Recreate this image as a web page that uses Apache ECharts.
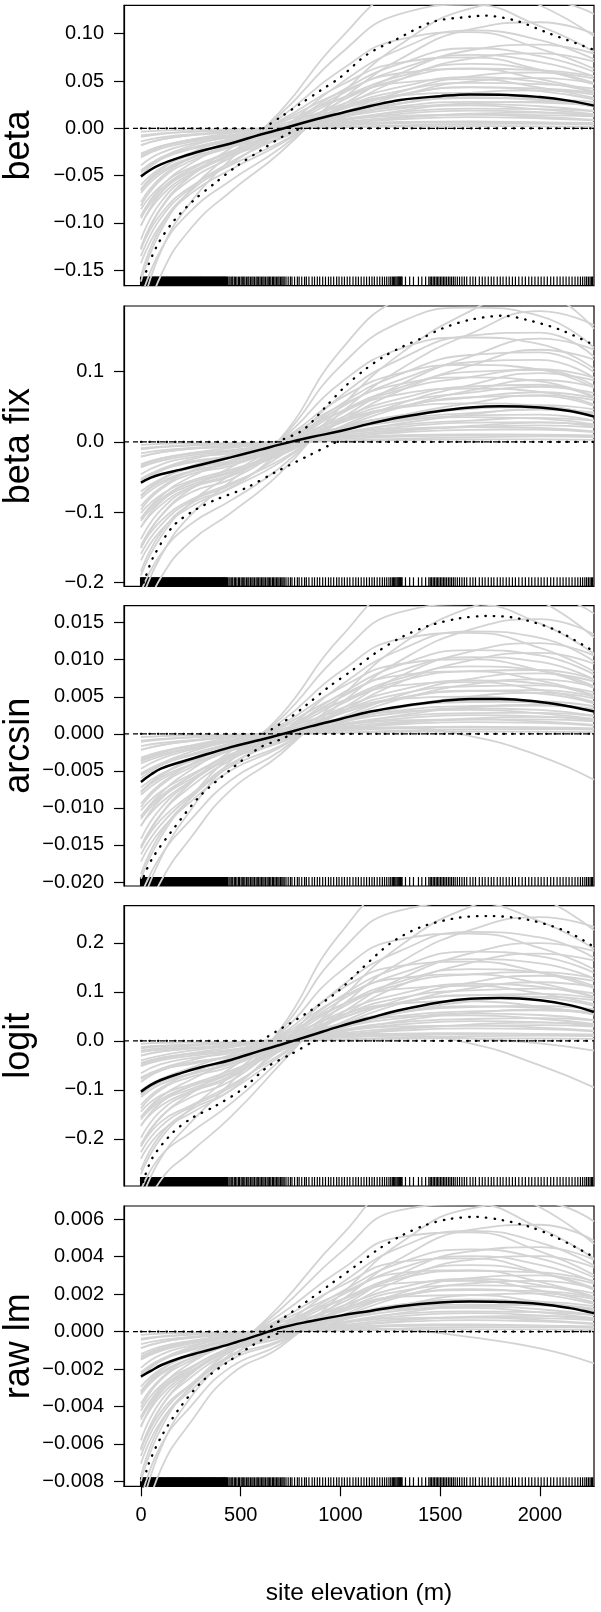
<!DOCTYPE html>
<html><head><meta charset="utf-8">
<script src="https://cdn.jsdelivr.net/npm/echarts@6/dist/echarts.min.js"></script>
<style>html,body{margin:0;padding:0;background:#fff}#c{width:601px;height:1612px}</style>
</head><body><div id="c"></div>
<script>
// shared elevation positions of the grey curves
const X = [0, 100, 250, 450, 700, 1000, 1300, 1650, 2000, 2271];
// positions of mean-curve readings
const MX = [0, 50, 100, 200, 300, 450, 600, 700, 850, 1000, 1150, 1300, 1500, 1650, 1800, 2000, 2150, 2271];
const xTicks = [0, 500, 1000, 1500, 2000];

// ---------- beta ----------
const betaTicks = [-0.15, -0.10, -0.05, 0, 0.05, 0.10];
const betaMean = [-0.051,-0.0435,-0.038,-0.0305,-0.024,-0.016,-0.0065,-0.001,0.008,0.016,0.0235,0.030,0.034,0.0358,0.0356,0.033,0.029,0.024];
const betaUpper = [[0,0],[613,0],[700,0.012],[800,0.026],[900,0.040],[1000,0.054],[1130,0.0775],[1280,0.094],[1465,0.1127],[1650,0.118],[1730,0.119],[1880,0.1137],[2050,0.100],[2271,0.083]];
const betaLower = [[0,-0.178],[28,-0.150],[87,-0.1216],[165,-0.0977],[262,-0.0765],[373,-0.0575],[483,-0.0395],[603,-0.0229],[723,-0.0071],[803,0],[2271,0]];
const betaGrey = [
[-0.0036,-0.0024,-0.0015,-0.0009,0,0.0011,0.0019,0.0024,0.0021,0.0017],
[-0.0076,-0.0054,-0.0037,-0.0023,-0.0009,0.0012,0.0031,0.0044,0.0047,0.0042],
[-0.009,-0.006,-0.0036,-0.0015,0.0008,0.0044,0.0067,0.0073,0.006,0.0045],
[-0.0137,-0.0096,-0.0064,-0.0036,-0.0009,0.0029,0.0053,0.0064,0.0062,0.0056],
[-0.0178,-0.0118,-0.0075,-0.0043,-0.0002,0.0054,0.0095,0.0118,0.0106,0.0083],
[-0.018,-0.012,-0.0072,-0.003,0.0017,0.0088,0.0134,0.0145,0.012,0.009],
[-0.0266,-0.0189,-0.0129,-0.0081,-0.0031,0.0043,0.0108,0.0154,0.0165,0.0147],
[-0.0285,-0.0189,-0.012,-0.0069,-0.0003,0.0086,0.0152,0.0188,0.017,0.0133],
[-0.0308,-0.0216,-0.0144,-0.0081,-0.002,0.0065,0.0119,0.0144,0.014,0.0126],
[-0.03,-0.02,-0.012,-0.005,0.0028,0.0146,0.0224,0.0242,0.02,0.015],
[-0.0392,-0.026,-0.0165,-0.0095,-0.0004,0.0119,0.0209,0.0259,0.0233,0.0183],
[-0.0456,-0.0324,-0.0221,-0.0139,-0.0053,0.0074,0.0185,0.0264,0.0283,0.0252],
[-0.0445,-0.0312,-0.0208,-0.0117,-0.0029,0.0094,0.0172,0.0208,0.0203,0.0182],
[-0.0498,-0.033,-0.021,-0.012,-0.0006,0.0151,0.0266,0.0329,0.0297,0.0232],
[-0.0465,-0.031,-0.0186,-0.0078,0.0043,0.0226,0.0347,0.0375,0.031,0.0233],
[-0.0646,-0.0459,-0.0313,-0.0197,-0.0075,0.0105,0.0262,0.0374,0.0401,0.0357],
[-0.0659,-0.0437,-0.0278,-0.0159,-0.0007,0.02,0.0352,0.0435,0.0392,0.0307],
[-0.0684,-0.048,-0.032,-0.018,-0.0044,0.0144,0.0264,0.032,0.0312,0.028],
[-0.0645,-0.043,-0.0258,-0.0108,0.006,0.0314,0.0482,0.052,0.043,0.0323],
[-0.0819,-0.0543,-0.0345,-0.0198,-0.0009,0.0248,0.0437,0.054,0.0488,0.0382],
[-0.095,-0.0675,-0.046,-0.029,-0.011,0.0155,0.0385,0.055,0.059,0.0525],
[-0.0923,-0.0648,-0.0432,-0.0243,-0.0059,0.0194,0.0356,0.0432,0.0421,0.0378],
[-0.1032,-0.0684,-0.0435,-0.0249,-0.0012,0.0313,0.0551,0.0682,0.0615,0.0481],
[-0.093,-0.062,-0.0372,-0.0155,0.0087,0.0453,0.0694,0.075,0.062,0.0465],
[-0.1273,-0.0905,-0.0616,-0.0389,-0.0147,0.0208,0.0516,0.0737,0.0791,0.0704],
[-0.1282,-0.085,-0.054,-0.031,-0.0014,0.0389,0.0684,0.0846,0.0763,0.0598],
[-0.1351,-0.0948,-0.0632,-0.0356,-0.0087,0.0284,0.0521,0.0632,0.0616,0.0553],
[-0.1566,-0.1038,-0.066,-0.0378,-0.0018,0.0475,0.0836,0.1034,0.0933,0.073],
[-0.162,-0.108,-0.0648,-0.027,0.0151,0.0788,0.121,0.1307,0.108,0.081],
[-0.2185,-0.1553,-0.1058,-0.0667,-0.0253,0.0357,0.0886,0.1265,0.1357,0.1208],
[-0.195,-0.13,-0.078,-0.0325,0.0182,0.0949,0.1456,0.1573,0.13,0.0975],
[-0.0599,-0.042,-0.028,-0.0158,-0.0039,0.0126,0.0231,0.028,0.0273,0.0245],
[-0.0855,-0.0608,-0.0414,-0.0261,-0.0099,0.014,0.0347,0.0495,0.0531,0.0473],
[-0.078,-0.052,-0.0312,-0.013,0.0073,0.038,0.0582,0.0629,0.052,0.039],
[-0.1026,-0.072,-0.048,-0.027,-0.0066,0.0216,0.0396,0.048,0.0468,0.042],
[-0.1175,-0.0779,-0.0495,-0.0284,-0.0013,0.0356,0.0627,0.0776,0.07,0.0548],
[-0.1425,-0.1013,-0.069,-0.0435,-0.0165,0.0233,0.0578,0.0825,0.0885,0.0788],
[-0.126,-0.084,-0.0504,-0.021,0.0118,0.0613,0.0941,0.1016,0.084,0.063],
[-0.1805,-0.1283,-0.0874,-0.0551,-0.0209,0.0295,0.0732,0.1045,0.1121,0.0998]
];

// ---------- beta fix ----------
const betaFixTicks = [-0.2, -0.1, 0, 0.1];
const betaFixMean = [-0.058,-0.051,-0.046,-0.0395,-0.0325,-0.022,-0.011,-0.0035,0.0065,0.0155,0.026,0.035,0.044,0.049,0.0508,0.049,0.044,0.036];
const betaFixUpper = [[0,0],[676,0],[811,0.0167],[926,0.050],[1022,0.0786],[1118,0.102],[1214,0.121],[1310,0.1356],[1406,0.1475],[1514,0.162],[1650,0.174],[1815,0.1798],[1933,0.174],[2100,0.160],[2271,0.138]];
const betaFixLower = [[0,-0.212],[20,-0.195],[62,-0.164],[158,-0.121],[254,-0.0997],[369,-0.083],[523,-0.066],[677,-0.0427],[830,-0.021],[965,-0.002],[985,0],[2271,0]];
const betaFixGrey = [
[-0.0042,-0.0029,-0.002,-0.0015,-0.0003,0.0015,0.0027,0.0034,0.0035,0.0028],
[-0.009,-0.0067,-0.0049,-0.0035,-0.0015,0.0017,0.0044,0.0065,0.0078,0.007],
[-0.0106,-0.0075,-0.0048,-0.0026,0.0002,0.006,0.0095,0.0106,0.01,0.0074],
[-0.0162,-0.012,-0.0086,-0.0062,-0.002,0.004,0.0075,0.0094,0.0105,0.0093],
[-0.021,-0.0147,-0.01,-0.0074,-0.0015,0.0074,0.0134,0.0172,0.0177,0.0138],
[-0.0211,-0.015,-0.0096,-0.0052,0.0005,0.012,0.019,0.0212,0.0199,0.0149],
[-0.0315,-0.0235,-0.0172,-0.0123,-0.0053,0.006,0.0153,0.0227,0.0274,0.0245],
[-0.0336,-0.0235,-0.016,-0.0118,-0.0024,0.0118,0.0214,0.0275,0.0283,0.0221],
[-0.0364,-0.027,-0.0193,-0.014,-0.0045,0.009,0.0169,0.0211,0.0236,0.0209],
[-0.0352,-0.025,-0.016,-0.0086,0.0008,0.02,0.0316,0.0354,0.0332,0.0248],
[-0.0462,-0.0323,-0.022,-0.0163,-0.0033,0.0163,0.0295,0.0378,0.0389,0.0304],
[-0.054,-0.0403,-0.0295,-0.0211,-0.0091,0.0103,0.0262,0.0389,0.047,0.042],
[-0.0525,-0.039,-0.0278,-0.0203,-0.0065,0.013,0.0244,0.0304,0.0341,0.0302],
[-0.0588,-0.0412,-0.028,-0.0207,-0.0042,0.0207,0.0375,0.0482,0.0496,0.0386],
[-0.0546,-0.0388,-0.0248,-0.0133,0.0012,0.031,0.049,0.0549,0.0515,0.0384],
[-0.0765,-0.0571,-0.0418,-0.0299,-0.0129,0.0146,0.0371,0.0551,0.0666,0.0595],
[-0.0777,-0.0544,-0.037,-0.0274,-0.0056,0.0274,0.0496,0.0636,0.0655,0.0511],
[-0.0808,-0.06,-0.0428,-0.0312,-0.01,0.02,0.0376,0.0468,0.0524,0.0464],
[-0.0757,-0.0538,-0.0344,-0.0185,0.0017,0.043,0.0679,0.0761,0.0714,0.0533],
[-0.0966,-0.0676,-0.046,-0.034,-0.0069,0.034,0.0616,0.0791,0.0814,0.0635],
[-0.1125,-0.084,-0.0615,-0.044,-0.019,0.0215,0.0545,0.081,0.098,0.0875],
[-0.1091,-0.081,-0.0578,-0.0421,-0.0135,0.027,0.0508,0.0632,0.0707,0.0626],
[-0.1218,-0.0853,-0.058,-0.0429,-0.0087,0.0429,0.0777,0.0998,0.1027,0.08],
[-0.1091,-0.0775,-0.0496,-0.0267,0.0025,0.062,0.098,0.1097,0.1029,0.0769],
[-0.1508,-0.1126,-0.0824,-0.059,-0.0255,0.0288,0.073,0.1085,0.1313,0.1173],
[-0.1512,-0.1058,-0.072,-0.0533,-0.0108,0.0533,0.0965,0.1238,0.1274,0.0994],
[-0.1596,-0.1185,-0.0845,-0.0616,-0.0198,0.0395,0.0743,0.0924,0.1035,0.0916],
[-0.1848,-0.1294,-0.088,-0.0651,-0.0132,0.0651,0.1179,0.1514,0.1558,0.1214],
[-0.1901,-0.135,-0.0864,-0.0464,0.0043,0.108,0.1706,0.1912,0.1793,0.1339],
[-0.2588,-0.1932,-0.1415,-0.1012,-0.0437,0.0495,0.1254,0.1863,0.2254,0.2013],
[-0.2288,-0.1625,-0.104,-0.0559,0.0052,0.13,0.2054,0.2301,0.2158,0.1612],
[-0.0707,-0.0525,-0.0375,-0.0273,-0.0088,0.0175,0.0329,0.041,0.0459,0.0406],
[-0.1013,-0.0756,-0.0554,-0.0396,-0.0171,0.0194,0.0491,0.0729,0.0882,0.0788],
[-0.0915,-0.065,-0.0416,-0.0224,0.0021,0.052,0.0822,0.092,0.0863,0.0645],
[-0.1212,-0.09,-0.0642,-0.0468,-0.015,0.03,0.0564,0.0702,0.0786,0.0696],
[-0.1386,-0.097,-0.066,-0.0488,-0.0099,0.0488,0.0884,0.1135,0.1168,0.0911],
[-0.1688,-0.126,-0.0923,-0.066,-0.0285,0.0323,0.0818,0.1215,0.147,0.1313],
[-0.1478,-0.105,-0.0672,-0.0361,0.0034,0.084,0.1327,0.1487,0.1394,0.1042],
[-0.2138,-0.1596,-0.1169,-0.0836,-0.0361,0.0409,0.1036,0.1539,0.1862,0.1663]
];

// ---------- arcsin ----------
const arcsinTicks = [-0.020, -0.015, -0.010, -0.005, 0, 0.005, 0.010, 0.015];
const arcsinMean = [-0.0065,-0.0055,-0.0047,-0.0038,-0.0030,-0.0018,-0.0008,-0.0001,0.0010,0.0020,0.0030,0.0037,0.0044,0.0047,0.0047,0.0043,0.0037,0.0030];
const arcsinUpper = [[0,0],[619,0],[753,0.0023],[830,0.0039],[945,0.0064],[1061,0.0086],[1176,0.0109],[1310,0.0131],[1445,0.0146],[1599,0.0156],[1733,0.0159],[1887,0.0156],[2079,0.014],[2271,0.0111]];
const arcsinLower = [[0,-0.0215],[14,-0.0193],[62,-0.0166],[158,-0.013],[292,-0.0085],[446,-0.0049],[600,-0.0018],[715,-0.0006],[753,0],[2271,0]];
const arcsinGrey = [
[-0.00043,-0.0003,-0.0002,-0.0001,0,0.00015,0.00026,0.00031,0.00029,0.00022],
[-0.00092,-0.00069,-0.00049,-0.00026,-0.0001,0.00017,0.00042,0.00059,0.00065,0.00056],
[-0.00109,-0.00077,-0.00047,-0.00017,0.00011,0.0006,0.00091,0.00097,0.00083,0.0006],
[-0.00165,-0.00124,-0.00085,-0.00041,-0.00009,0.0004,0.00072,0.00086,0.00087,0.00074],
[-0.00215,-0.00152,-0.00099,-0.00049,0,0.00074,0.00129,0.00157,0.00147,0.00111],
[-0.00217,-0.00155,-0.00095,-0.00034,0.00023,0.0012,0.00182,0.00194,0.00166,0.0012],
[-0.00322,-0.00242,-0.00171,-0.00092,-0.00034,0.0006,0.00146,0.00207,0.00228,0.00197],
[-0.00344,-0.00243,-0.00158,-0.00078,0,0.00118,0.00206,0.00251,0.00235,0.00178],
[-0.00371,-0.00279,-0.00191,-0.00092,-0.0002,0.0009,0.00162,0.00193,0.00196,0.00167],
[-0.00362,-0.00258,-0.00158,-0.00056,0.00038,0.002,0.00304,0.00324,0.00276,0.002],
[-0.00473,-0.00334,-0.00218,-0.00108,0,0.00163,0.00284,0.00345,0.00323,0.00244],
[-0.00552,-0.00415,-0.00293,-0.00158,-0.00058,0.00103,0.0025,0.00355,0.00391,0.00338],
[-0.00536,-0.00403,-0.00276,-0.00133,-0.00029,0.0013,0.00234,0.00278,0.00283,0.00242],
[-0.00602,-0.00426,-0.00277,-0.00137,0,0.00207,0.00361,0.0044,0.00412,0.00311],
[-0.00561,-0.004,-0.00245,-0.00087,0.00059,0.0031,0.00471,0.00502,0.00428,0.0031],
[-0.00782,-0.00588,-0.00415,-0.00224,-0.00082,0.00146,0.00354,0.00503,0.00554,0.00479],
[-0.00796,-0.00562,-0.00366,-0.00181,0,0.00274,0.00477,0.00581,0.00544,0.00411],
[-0.00824,-0.0062,-0.00424,-0.00204,-0.00044,0.002,0.0036,0.00428,0.00436,0.00372],
[-0.00778,-0.00555,-0.0034,-0.0012,0.00082,0.0043,0.00654,0.00697,0.00593,0.0043],
[-0.00989,-0.00699,-0.00455,-0.00225,0,0.0034,0.00593,0.00722,0.00676,0.00511],
[-0.0115,-0.00865,-0.0061,-0.0033,-0.0012,0.00215,0.0052,0.0074,0.00815,0.00705],
[-0.01112,-0.00837,-0.00572,-0.00275,-0.00059,0.0027,0.00486,0.00578,0.00589,0.00502],
[-0.01247,-0.00882,-0.00574,-0.00284,0,0.00429,0.00748,0.00911,0.00853,0.00644],
[-0.01122,-0.008,-0.0049,-0.00174,0.00118,0.0062,0.00942,0.01004,0.00856,0.0062],
[-0.01541,-0.01159,-0.00817,-0.00442,-0.00161,0.00288,0.00697,0.00992,0.01092,0.00945],
[-0.01548,-0.01094,-0.00713,-0.00353,0,0.00533,0.00929,0.0113,0.01058,0.00799],
[-0.01627,-0.01225,-0.00837,-0.00403,-0.00087,0.00395,0.00711,0.00845,0.00861,0.00735],
[-0.01892,-0.01338,-0.00871,-0.00431,0,0.00651,0.01135,0.01382,0.01294,0.00977],
[-0.01955,-0.01393,-0.00853,-0.00302,0.00205,0.0108,0.01642,0.0175,0.0149,0.0108],
[-0.02645,-0.0199,-0.01403,-0.00759,-0.00276,0.00495,0.01196,0.01702,0.01875,0.01622],
[-0.02353,-0.01677,-0.01027,-0.00364,0.00247,0.013,0.01976,0.02106,0.01794,0.013],
[-0.004,-0.003,-0.002,-0.001,0.0002,0.0009,0.0008,-0.0003,-0.003,-0.0062],
[-0.00721,-0.00543,-0.00371,-0.00179,-0.00039,0.00175,0.00315,0.00375,0.00382,0.00326],
[-0.01035,-0.00779,-0.00549,-0.00297,-0.00108,0.00194,0.00468,0.00666,0.00734,0.00635],
[-0.00941,-0.00671,-0.00411,-0.00146,0.00099,0.0052,0.0079,0.00842,0.00718,0.0052],
[-0.01236,-0.0093,-0.00636,-0.00306,-0.00066,0.003,0.0054,0.00642,0.00654,0.00558],
[-0.01419,-0.01003,-0.00653,-0.00323,0,0.00488,0.00851,0.01036,0.0097,0.00733],
[-0.01725,-0.01298,-0.00915,-0.00495,-0.0018,0.00323,0.0078,0.0111,0.01223,0.01058],
[-0.0152,-0.01084,-0.00664,-0.00235,0.0016,0.0084,0.01277,0.01361,0.01159,0.0084],
[-0.02185,-0.01644,-0.01159,-0.00627,-0.00228,0.00409,0.00988,0.01406,0.01549,0.0134]
];

// ---------- logit ----------
const logitTicks = [-0.2, -0.1, 0, 0.1, 0.2];
const logitMean = [-0.104,-0.090,-0.080,-0.066,-0.054,-0.039,-0.020,-0.008,0.011,0.030,0.047,0.063,0.079,0.086,0.0875,0.083,0.073,0.059];
const logitUpper = [[0,0],[600,0],[677,0.019],[830,0.0565],[984,0.10],[1100,0.145],[1253,0.20],[1406,0.233],[1599,0.252],[1752,0.255],[1945,0.247],[2137,0.223],[2271,0.192]];
const logitLower = [[0,-0.305],[19,-0.277],[62,-0.236],[158,-0.188],[254,-0.158],[369,-0.134],[504,-0.10],[638,-0.052],[753,-0.027],[869,0],[2271,0]];
const logitGrey = [
[-0.006,-0.0043,-0.0032,-0.0023,-0.0002,0.0025,0.0042,0.0051,0.0048,0.0039],
[-0.0128,-0.0099,-0.0079,-0.0054,-0.0016,0.0029,0.0068,0.0095,0.0106,0.0098],
[-0.0151,-0.011,-0.0077,-0.004,0.0011,0.0101,0.0148,0.0157,0.0136,0.0104],
[-0.023,-0.0177,-0.0137,-0.0096,-0.0018,0.0067,0.0117,0.0138,0.0142,0.013],
[-0.03,-0.0217,-0.016,-0.0114,-0.0008,0.0125,0.0209,0.0253,0.024,0.0193],
[-0.0302,-0.0221,-0.0154,-0.0079,0.0023,0.0203,0.0296,0.0313,0.0271,0.0209],
[-0.0449,-0.0346,-0.0276,-0.0189,-0.0057,0.0102,0.0237,0.0333,0.0372,0.0343],
[-0.048,-0.0347,-0.0256,-0.0182,-0.0013,0.02,0.0334,0.0405,0.0384,0.0309],
[-0.0518,-0.0398,-0.0308,-0.0216,-0.0041,0.0151,0.0263,0.031,0.032,0.0292],
[-0.0504,-0.0368,-0.0256,-0.0132,0.0038,0.0338,0.0494,0.0522,0.0452,0.0348],
[-0.066,-0.0477,-0.0352,-0.0251,-0.0018,0.0275,0.046,0.0557,0.0528,0.0425],
[-0.077,-0.0593,-0.0473,-0.0324,-0.0098,0.0175,0.0406,0.0571,0.0638,0.0588],
[-0.0749,-0.0575,-0.0445,-0.0312,-0.006,0.0218,0.038,0.0447,0.0463,0.0421],
[-0.084,-0.0608,-0.0448,-0.0319,-0.0022,0.035,0.0585,0.0708,0.0672,0.054],
[-0.0781,-0.057,-0.0397,-0.0205,0.0059,0.0524,0.0766,0.0809,0.0701,0.0539],
[-0.1091,-0.084,-0.067,-0.0459,-0.0139,0.0248,0.0575,0.0809,0.0904,0.0833],
[-0.111,-0.0803,-0.0592,-0.0422,-0.003,0.0463,0.0773,0.0936,0.0888,0.0714],
[-0.1152,-0.0884,-0.0684,-0.048,-0.0092,0.0336,0.0584,0.0688,0.0712,0.0648],
[-0.1084,-0.0791,-0.055,-0.0284,0.0082,0.0727,0.1062,0.1122,0.0972,0.0748],
[-0.138,-0.0998,-0.0736,-0.0524,-0.0037,0.0575,0.0961,0.1164,0.1104,0.0888],
[-0.1605,-0.1235,-0.0985,-0.0675,-0.0205,0.0365,0.0845,0.119,0.133,0.1225],
[-0.1555,-0.1193,-0.0923,-0.0648,-0.0124,0.0454,0.0788,0.0929,0.0961,0.0875],
[-0.174,-0.1259,-0.0928,-0.0661,-0.0046,0.0725,0.1212,0.1467,0.1392,0.1119],
[-0.1562,-0.1141,-0.0794,-0.0409,0.0118,0.1048,0.1531,0.1618,0.1401,0.1079],
[-0.2151,-0.1655,-0.132,-0.0905,-0.0275,0.0489,0.1132,0.1595,0.1782,0.1642],
[-0.216,-0.1562,-0.1152,-0.0821,-0.0058,0.09,0.1505,0.1822,0.1728,0.139],
[-0.2275,-0.1746,-0.1351,-0.0948,-0.0182,0.0664,0.1153,0.1359,0.1406,0.128],
[-0.264,-0.191,-0.1408,-0.1003,-0.007,0.11,0.1839,0.2226,0.2112,0.1698],
[-0.2722,-0.1987,-0.1382,-0.0713,0.0205,0.1825,0.2668,0.2819,0.2441,0.1879],
[-0.3692,-0.2841,-0.2266,-0.1553,-0.0472,0.084,0.1944,0.2737,0.3059,0.2818],
[-0.3276,-0.2392,-0.1664,-0.0858,0.0247,0.2197,0.3211,0.3393,0.2938,0.2262],
[-0.04,-0.03,-0.02,-0.01,0.005,0.015,0.012,-0.005,-0.05,-0.095],
[-0.02,-0.015,-0.01,-0.005,0.002,0.008,0.01,0.005,-0.005,-0.02],
[-0.1008,-0.0774,-0.0599,-0.042,-0.0081,0.0294,0.0511,0.0602,0.0623,0.0567],
[-0.1445,-0.1112,-0.0887,-0.0608,-0.0185,0.0329,0.0761,0.1071,0.1197,0.1103],
[-0.131,-0.0957,-0.0666,-0.0343,0.0099,0.0879,0.1284,0.1357,0.1175,0.0905],
[-0.1728,-0.1326,-0.1026,-0.072,-0.0138,0.0504,0.0876,0.1032,0.1068,0.0972],
[-0.198,-0.1432,-0.1056,-0.0752,-0.0053,0.0825,0.1379,0.167,0.1584,0.1274],
[-0.2408,-0.1853,-0.1478,-0.1013,-0.0308,0.0548,0.1268,0.1785,0.1995,0.1838],
[-0.2117,-0.1546,-0.1075,-0.0554,0.016,0.142,0.2075,0.2192,0.1898,0.1462],
[-0.305,-0.2347,-0.1872,-0.1283,-0.039,0.0694,0.1606,0.2261,0.2527,0.2328]
];

// ---------- raw lm ----------
const rawTicks = [-0.008, -0.006, -0.004, -0.002, 0, 0.002, 0.004, 0.006];
const rawMean = [-0.0024,-0.0021,-0.0018,-0.0014,-0.0011,-0.00066,-0.00015,0.0002,0.00055,0.00085,0.0011,0.00135,0.00155,0.0016,0.00158,0.00147,0.00125,0.00098];
const rawUpper = [[0,0],[619,0],[850,0.00175],[965,0.00264],[1080,0.00353],[1195,0.00443],[1310,0.00514],[1426,0.00568],[1541,0.006],[1676,0.00612],[1810,0.00595],[1945,0.0056],[2079,0.00504],[2271,0.00397]];
const rawLower = [[0,-0.0088],[33,-0.00724],[100,-0.00565],[196,-0.00405],[311,-0.00262],[446,-0.00155],[600,-0.00048],[715,0],[2271,0]];
const rawGrey = [
[-0.00018,-0.00011,-0.00007,-0.00003,0.00001,0.00006,0.0001,0.00012,0.00011,0.00008],
[-0.00038,-0.00026,-0.00017,-0.00008,-0.00003,0.00007,0.00016,0.00023,0.00024,0.0002],
[-0.00044,-0.00029,-0.00016,-0.00005,0.00007,0.00023,0.00036,0.00038,0.00031,0.00022],
[-0.00067,-0.00046,-0.00029,-0.00013,-0.00001,0.00015,0.00029,0.00033,0.00032,0.00027],
[-0.00088,-0.00056,-0.00034,-0.00015,0.00003,0.00029,0.00051,0.00061,0.00054,0.0004],
[-0.00089,-0.00058,-0.00032,-0.00011,0.00013,0.00047,0.00072,0.00076,0.00061,0.00043],
[-0.00132,-0.0009,-0.00059,-0.00028,-0.0001,0.00024,0.00057,0.0008,0.00084,0.00071],
[-0.00141,-0.0009,-0.00054,-0.00024,0.00005,0.00046,0.00082,0.00098,0.00086,0.00064],
[-0.00151,-0.00103,-0.00065,-0.00029,-0.00002,0.00034,0.00065,0.00074,0.00072,0.00061],
[-0.00148,-0.00096,-0.00054,-0.00018,0.00022,0.00078,0.0012,0.00126,0.00102,0.00072],
[-0.00194,-0.00123,-0.00075,-0.00033,0.00007,0.00064,0.00112,0.00134,0.00119,0.00088],
[-0.00226,-0.00154,-0.00101,-0.00048,-0.00017,0.00041,0.00098,0.00137,0.00144,0.00122],
[-0.00218,-0.00148,-0.00094,-0.00042,-0.00003,0.00049,0.00094,0.00107,0.00104,0.00088],
[-0.00246,-0.00157,-0.00095,-0.00042,0.00008,0.00081,0.00143,0.00171,0.00151,0.00112],
[-0.00229,-0.00149,-0.00084,-0.00028,0.00034,0.00121,0.00186,0.00195,0.00158,0.00112],
[-0.0032,-0.00218,-0.00143,-0.00068,-0.00024,0.00058,0.00139,0.00194,0.00204,0.00173],
[-0.00326,-0.00207,-0.00126,-0.00056,0.00011,0.00107,0.00189,0.00226,0.002,0.00148],
[-0.00336,-0.00228,-0.00144,-0.00064,-0.00004,0.00076,0.00144,0.00164,0.0016,0.00136],
[-0.00318,-0.00206,-0.00116,-0.00039,0.00047,0.00168,0.00258,0.00271,0.00219,0.00155],
[-0.00405,-0.00258,-0.00156,-0.00069,0.00014,0.00133,0.00235,0.00281,0.00248,0.00184],
[-0.0047,-0.0032,-0.0021,-0.001,-0.00035,0.00085,0.00205,0.00285,0.003,0.00255],
[-0.00454,-0.00308,-0.00194,-0.00086,-0.00005,0.00103,0.00194,0.00221,0.00216,0.00184],
[-0.0051,-0.00325,-0.00197,-0.00087,0.00017,0.00168,0.00296,0.00354,0.00313,0.00232],
[-0.00459,-0.00298,-0.00167,-0.00056,0.00068,0.00242,0.00372,0.00391,0.00316,0.00223],
[-0.0063,-0.00429,-0.00281,-0.00134,-0.00047,0.00114,0.00275,0.00382,0.00402,0.00342],
[-0.00634,-0.00403,-0.00245,-0.00108,0.00022,0.00209,0.00367,0.00439,0.00389,0.00288],
[-0.00664,-0.0045,-0.00284,-0.00126,-0.00008,0.0015,0.00284,0.00324,0.00316,0.00269],
[-0.00774,-0.00493,-0.00299,-0.00132,0.00026,0.00255,0.00449,0.00537,0.00475,0.00352],
[-0.00799,-0.00518,-0.00292,-0.00097,0.00119,0.00421,0.00648,0.0068,0.00551,0.00389],
[-0.01081,-0.00736,-0.00483,-0.0023,-0.00081,0.00196,0.00472,0.00656,0.0069,0.00587],
[-0.00962,-0.00624,-0.00351,-0.00117,0.00143,0.00507,0.0078,0.00819,0.00663,0.00468],
[-0.0012,-0.0008,-0.0005,-0.0002,0.0001,0.0002,0.0001,-0.0003,-0.0009,-0.0017],
[-0.00294,-0.002,-0.00126,-0.00056,-0.00004,0.00067,0.00126,0.00144,0.0014,0.00119],
[-0.00423,-0.00288,-0.00189,-0.0009,-0.00032,0.00077,0.00185,0.00257,0.0027,0.0023],
[-0.00385,-0.0025,-0.0014,-0.00047,0.00057,0.00203,0.00312,0.00328,0.00265,0.00187],
[-0.00504,-0.00342,-0.00216,-0.00096,-0.00006,0.00114,0.00216,0.00246,0.0024,0.00204],
[-0.00581,-0.0037,-0.00224,-0.00099,0.0002,0.00191,0.00337,0.00403,0.00356,0.00264],
[-0.00705,-0.0048,-0.00315,-0.0015,-0.00053,0.00128,0.00308,0.00428,0.0045,0.00383],
[-0.00622,-0.00403,-0.00227,-0.00076,0.00092,0.00328,0.00504,0.00529,0.00428,0.00302],
[-0.00893,-0.00608,-0.00399,-0.0019,-0.00067,0.00162,0.0039,0.00542,0.0057,0.00485]
];

// site elevations shown as the rug
const rug = [0,4,9,13,18,23,27,31,36,41,45,50,54,59,64,68,73,77,82,86,91,96,100,105,109,114,118,123,128,132,137,141,146,150,155,160,164,169,173,178,182,187,192,196,201,205,210,214,219,224,228,233,237,242,246,251,256,260,265,269,274,278,283,288,292,297,301,306,310,315,320,324,329,333,338,342,347,352,356,361,365,370,374,379,384,388,393,397,402,406,411,416,420,425,429,
434,441,447,455,460,468,474,481,489,494,502,508,515,521,529,536,541,549,556,562,569,577,583,590,597,604,611,617,624,632,638,645,651,659,665,672,679,686,692,699,706,712,718,
727,738,749,757,770,784,793,806,820,829,842,858,870,884,896,911,925,940,952,966,981,993,1007,1020,1034,1047,1063,1077,1090,1104,1118,1131,1145,1158,1170,1184,1197,1210,1221,1232,1243,1252,1260,1266,1272,1278,1284,1289,1293,1297,1301,1305,1309,
1326,1347,1366,1391,1408,1427,
1443,1450,1457,1465,1472,1480,1487,1494,1502,1509,1517,1524,1532,1541,1549,1557,1566,1575,1586,1597,1609,1621,1633,
1650,1664,1677,1696,1711,1725,1741,1756,1769,1786,1801,1815,1831,1846,1862,1877,1894,1911,1927,1944,1959,1975,1991,2006,2021,2037,2054,2069,2086,2101,2116,2131,2146,2161,2176,2190,2203,2214,2225,2234,2243,2251,2258,2264];

const panels = [
  {name:'beta',     grey:betaGrey,    mean:betaMean,    upper:betaUpper,    lower:betaLower,    ticks:betaTicks,    dec:2, min:-0.1662,  max:0.1300},
  {name:'beta fix', grey:betaFixGrey, mean:betaFixMean, upper:betaFixUpper, lower:betaFixLower, ticks:betaFixTicks, dec:1, min:-0.2057,  max:0.1936},
  {name:'arcsin',   grey:arcsinGrey,  mean:arcsinMean,  upper:arcsinUpper,  lower:arcsinLower,  ticks:arcsinTicks,  dec:3, min:-0.02054, max:0.01729},
  {name:'logit',    grey:logitGrey,   mean:logitMean,   upper:logitUpper,   lower:logitLower,   ticks:logitTicks,   dec:1, min:-0.2965,  max:0.2761},
  {name:'raw lm',   grey:rawGrey,     mean:rawMean,     upper:rawUpper,     lower:rawLower,     ticks:rawTicks,     dec:3, min:-0.00826, max:0.0067}
];

const FONT = '"Liberation Sans", Arial, Helvetica, sans-serif';
const XMIN = -85, XMAX = 2271;
const tops = [5.3, 306, 605.7, 905.7, 1206];
const H = 280.3, LEFT = 124, W = 470;

// split an envelope into its flat-zero runs (straight) and its curved part (smoothed)
function splitEnvelope(d) {
  let a = 0, b = d.length - 1;
  while (a < d.length - 1 && d[a][1] === 0 && d[a + 1][1] === 0) a++;
  while (b > 0 && d[b][1] === 0 && d[b - 1][1] === 0) b--;
  const parts = [];
  if (a > 0) parts.push({pts: d.slice(0, a + 1), smooth: false});
  parts.push({pts: d.slice(a, b + 1), smooth: 0.3});
  if (b < d.length - 1) parts.push({pts: d.slice(b), smooth: false});
  return parts;
}

const grids = [], xAxes = [], yAxes = [], series = [], graphics = [];
panels.forEach((p, i) => {
  grids.push({left: LEFT, top: tops[i], width: W, height: H, show: true, borderColor: '#000', borderWidth: 1.2, backgroundColor: 'transparent', containLabel: false});
  const last = i === panels.length - 1;
  xAxes.push({gridIndex: i, type: 'value', position: 'bottom', min: XMIN, max: XMAX,
    axisLine: {show: last, onZero: false, lineStyle: {color: '#000', width: 1.2}}, splitLine: {show: false},
    axisTick: {show: last, length: 10, customValues: xTicks, lineStyle: {color: '#000', width: 1.2}},
    axisLabel: {show: last, customValues: xTicks, margin: 19, fontSize: 20, color: '#000', fontFamily: FONT,
      formatter: v => String(Math.round(v))}});
  yAxes.push({gridIndex: i, type: 'value', position: 'left', min: p.min, max: p.max,
    axisLine: {show: true, onZero: false, lineStyle: {color: '#000', width: 1.2}}, splitLine: {show: false},
    axisTick: {show: true, length: 10, customValues: p.ticks, lineStyle: {color: '#000', width: 1.2}},
    axisLabel: {customValues: p.ticks, margin: 20, fontSize: 20, color: '#000', fontFamily: FONT,
      formatter: v => Number(v).toFixed(p.dec).replace('-', '\u2212')}});
  // rug (ticks in the crowded low-elevation stretch drawn a bit wider so they merge as in the original)
  series.push({type: 'scatter', xAxisIndex: i, yAxisIndex: i, silent: true, z: 1,
    symbol: 'rect', symbolSize: v => [v[0] <= 430 ? 2 : 1.2, 9], symbolOffset: [0, -4.5],
    itemStyle: {color: '#000', opacity: 1}, data: rug.map(x => [x, p.min])});
  // grey curves
  p.grey.forEach(row => {
    series.push({type: 'line', xAxisIndex: i, yAxisIndex: i, silent: true, z: 2,
      showSymbol: false, smooth: 0.5,
      lineStyle: {color: '#d3d3d3', width: 1.8},
      data: X.map((x, j) => [x, row[j]])});
  });
  // zero line
  series.push({type: 'line', xAxisIndex: i, yAxisIndex: i, silent: true, z: 3, showSymbol: false,
    lineStyle: {color: '#000', width: 1.2, type: [5, 4]}, data: [[XMIN, 0], [XMAX, 0]]});
  // dotted envelopes
  [p.upper, p.lower].forEach(d => {
    splitEnvelope(d).forEach(part => {
      series.push({type: 'line', xAxisIndex: i, yAxisIndex: i, silent: true, z: 4, showSymbol: false,
        smooth: part.smooth,
        lineStyle: {color: '#000', width: 2.3, type: [0.5, 8], cap: 'round'}, data: part.pts});
    });
  });
  // mean
  series.push({type: 'line', xAxisIndex: i, yAxisIndex: i, silent: true, z: 5, showSymbol: false,
    smooth: 0.4,
    lineStyle: {color: '#000', width: 2.5}, data: MX.map((x, j) => [x, p.mean[j]])});
  graphics.push({type: 'text', x: 19.5, y: tops[i] + H / 2, rotation: Math.PI / 2,
    style: {text: p.name, font: '36px ' + FONT, fill: '#000', textAlign: 'center', textVerticalAlign: 'middle', align: 'center', verticalAlign: 'middle'}});
});
graphics.push({type: 'text', x: LEFT + W / 2, y: 1593,
  style: {text: 'site elevation (m)', font: '24.5px ' + FONT, fill: '#000', textAlign: 'center', textVerticalAlign: 'middle', align: 'center', verticalAlign: 'middle'}});

const chart = echarts.init(document.getElementById('c'), null, {renderer: 'canvas'});
chart.setOption({animation: false, backgroundColor: '#fff', grid: grids, xAxis: xAxes, yAxis: yAxes, series: series, graphic: graphics});
</script></body></html>
